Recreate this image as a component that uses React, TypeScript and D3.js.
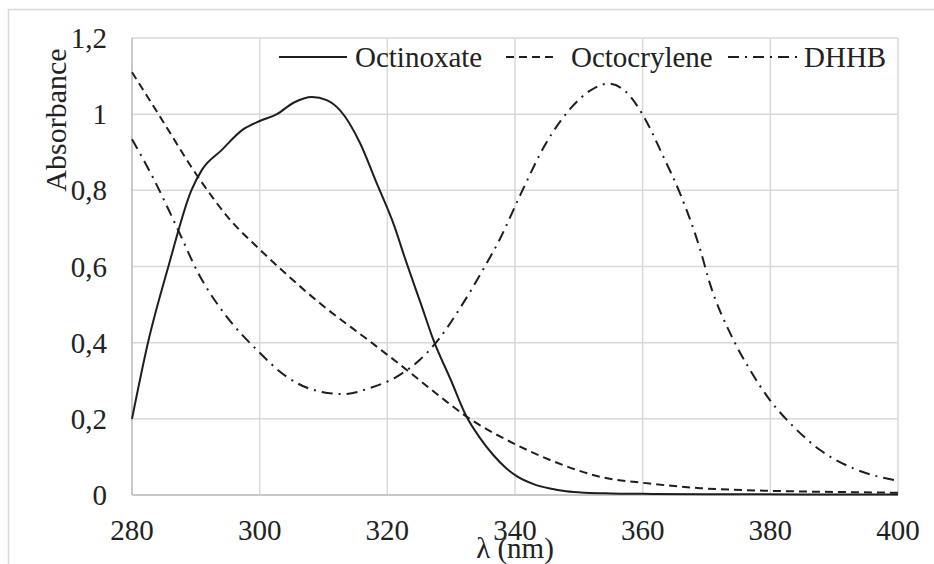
import React from 'react';
import * as d3 from 'd3';

// wavelength (nm) / absorbance
const octinoxateNm = [280, 282.5, 285.7, 289.3, 291, 294, 297.4, 300, 302.7, 305.3, 308.2, 310.5, 312.6, 315.7, 318.3, 320.9, 323, 325.3, 327.2, 330, 332.4, 334.5, 336.6, 338.5, 340.2, 343, 345.5, 348, 351, 355, 360, 370, 385, 400];
const octinoxateAbs = [0.2, 0.4, 0.6, 0.8, 0.855, 0.905, 0.96, 0.982, 1.0, 1.03, 1.045, 1.037, 1.01, 0.925, 0.82, 0.715, 0.61, 0.5, 0.408, 0.3, 0.206, 0.15, 0.105, 0.072, 0.05, 0.028, 0.017, 0.01, 0.006, 0.004, 0.003, 0.002, 0.0015, 0.001];

const octocryleneNm = [280, 284, 290.6, 295.3, 300, 304.5, 309.4, 317.3, 323, 328, 332.4, 340.2, 345.5, 353.3, 361.1, 369, 380, 390, 400];
const octocryleneAbs = [1.11, 1.004, 0.829, 0.724, 0.645, 0.575, 0.504, 0.403, 0.329, 0.262, 0.206, 0.132, 0.092, 0.048, 0.03, 0.018, 0.011, 0.008, 0.006];

const dhhbNm = [280, 283.3, 287.3, 290.3, 294.8, 299.5, 304.2, 308.4, 313.1, 317.3, 321.5, 325.1, 328, 331.4, 335, 337.6, 341, 344.9, 348.6, 351.7, 354.6, 357.5, 360.1, 363.2, 365.8, 369, 370.5, 374.2, 376.8, 379.9, 383.6, 387.8, 393, 400];
const dhhbAbs = [0.934, 0.833, 0.693, 0.585, 0.469, 0.382, 0.311, 0.276, 0.265, 0.281, 0.311, 0.355, 0.408, 0.491, 0.592, 0.671, 0.794, 0.925, 1.013, 1.061, 1.08, 1.057, 0.996, 0.89, 0.794, 0.645, 0.557, 0.408, 0.329, 0.25, 0.18, 0.118, 0.07, 0.037];

const seriesNames = ['Octinoxate', 'Octocrylene', 'DHHB'];
const xTicks = [280, 300, 320, 340, 360, 380, 400];
const yTicks = [0, 0.2, 0.4, 0.6, 0.8, 1, 1.2];

const W = 934, H = 564;
const margin = { left: 132, right: 36, top: 38, bottom: 69 };
const font = "'Liberation Serif', 'Times New Roman', Times, serif";
const ink = '#1e1e1e';
const fmt = d3.formatLocale({ decimal: ',', thousands: '.', grouping: [3], currency: ['', ''] }).format('~g');

export default function App() {
  const x = d3.scaleLinear().domain([280, 400]).range([margin.left, W - margin.right]);
  const y = d3.scaleLinear().domain([0, 1.2]).range([H - margin.bottom, margin.top]);

  const line = d3.line<[number, number]>()
    .x(d => x(d[0]))
    .y(d => y(d[1]))
    .curve(d3.curveMonotoneX);

  const series = [
    { name: seriesNames[0], pts: octinoxateNm.map((v, i) => [v, octinoxateAbs[i]] as [number, number]), dash: null },
    { name: seriesNames[1], pts: octocryleneNm.map((v, i) => [v, octocryleneAbs[i]] as [number, number]), dash: '8,5' },
    { name: seriesNames[2], pts: dhhbNm.map((v, i) => [v, dhhbAbs[i]] as [number, number]), dash: '11,6,2,6' },
  ];

  // legend positions (line start, line end, text start)
  const legend = [[279, 347, 355], [506, 558, 571], [728, 797, 804]];

  return (
    <svg width={W} height={H} style={{ position: 'fixed', left: 0, top: 0, background: '#fff', fontFamily: font }}>
      <rect x={8.5} y={9.5} width={1000} height={600} fill="#fff" stroke="#d9d9d9" strokeWidth={1.5} />

      {xTicks.map(t => (
        <line key={'gx' + t} x1={x(t)} x2={x(t)} y1={y(1.2)} y2={y(0)} stroke="#d9d9d9" strokeWidth={1.5} />
      ))}
      {yTicks.map(t => (
        <line key={'gy' + t} x1={x(280)} x2={x(400)} y1={y(t)} y2={y(t)} stroke="#d9d9d9" strokeWidth={1.5} />
      ))}
      <line x1={x(280)} x2={x(280)} y1={y(1.2)} y2={y(0)} stroke="#bfbfbf" strokeWidth={1.5} />
      <line x1={x(280)} x2={x(400)} y1={y(0)} y2={y(0)} stroke="#bfbfbf" strokeWidth={1.5} />

      {series.map(s => (
        <path key={s.name} d={line(s.pts) || ''} fill="none" stroke={ink} strokeWidth={2}
          strokeDasharray={s.dash || undefined} />
      ))}

      <g fontSize={29} fill="#222">
        {xTicks.map(t => (
          <text key={'tx' + t} x={x(t)} y={540} textAnchor="middle">{t}</text>
        ))}
        {yTicks.map(t => (
          <text key={'ty' + t} x={107} y={y(t) + 10} textAnchor="end">{fmt(t)}</text>
        ))}
        <text transform="translate(66,120) rotate(-90)" textAnchor="middle" fontSize={30}>Absorbance</text>
        <text x={515} y={558} textAnchor="middle">λ (nm)</text>

        {series.map((s, i) => (
          <g key={'lg' + s.name}>
            <line x1={legend[i][0]} x2={legend[i][1]} y1={57} y2={57} stroke={ink} strokeWidth={2}
              strokeDasharray={s.dash || undefined} />
            <text x={legend[i][2]} y={67}>{s.name}</text>
          </g>
        ))}
      </g>
    </svg>
  );
}
